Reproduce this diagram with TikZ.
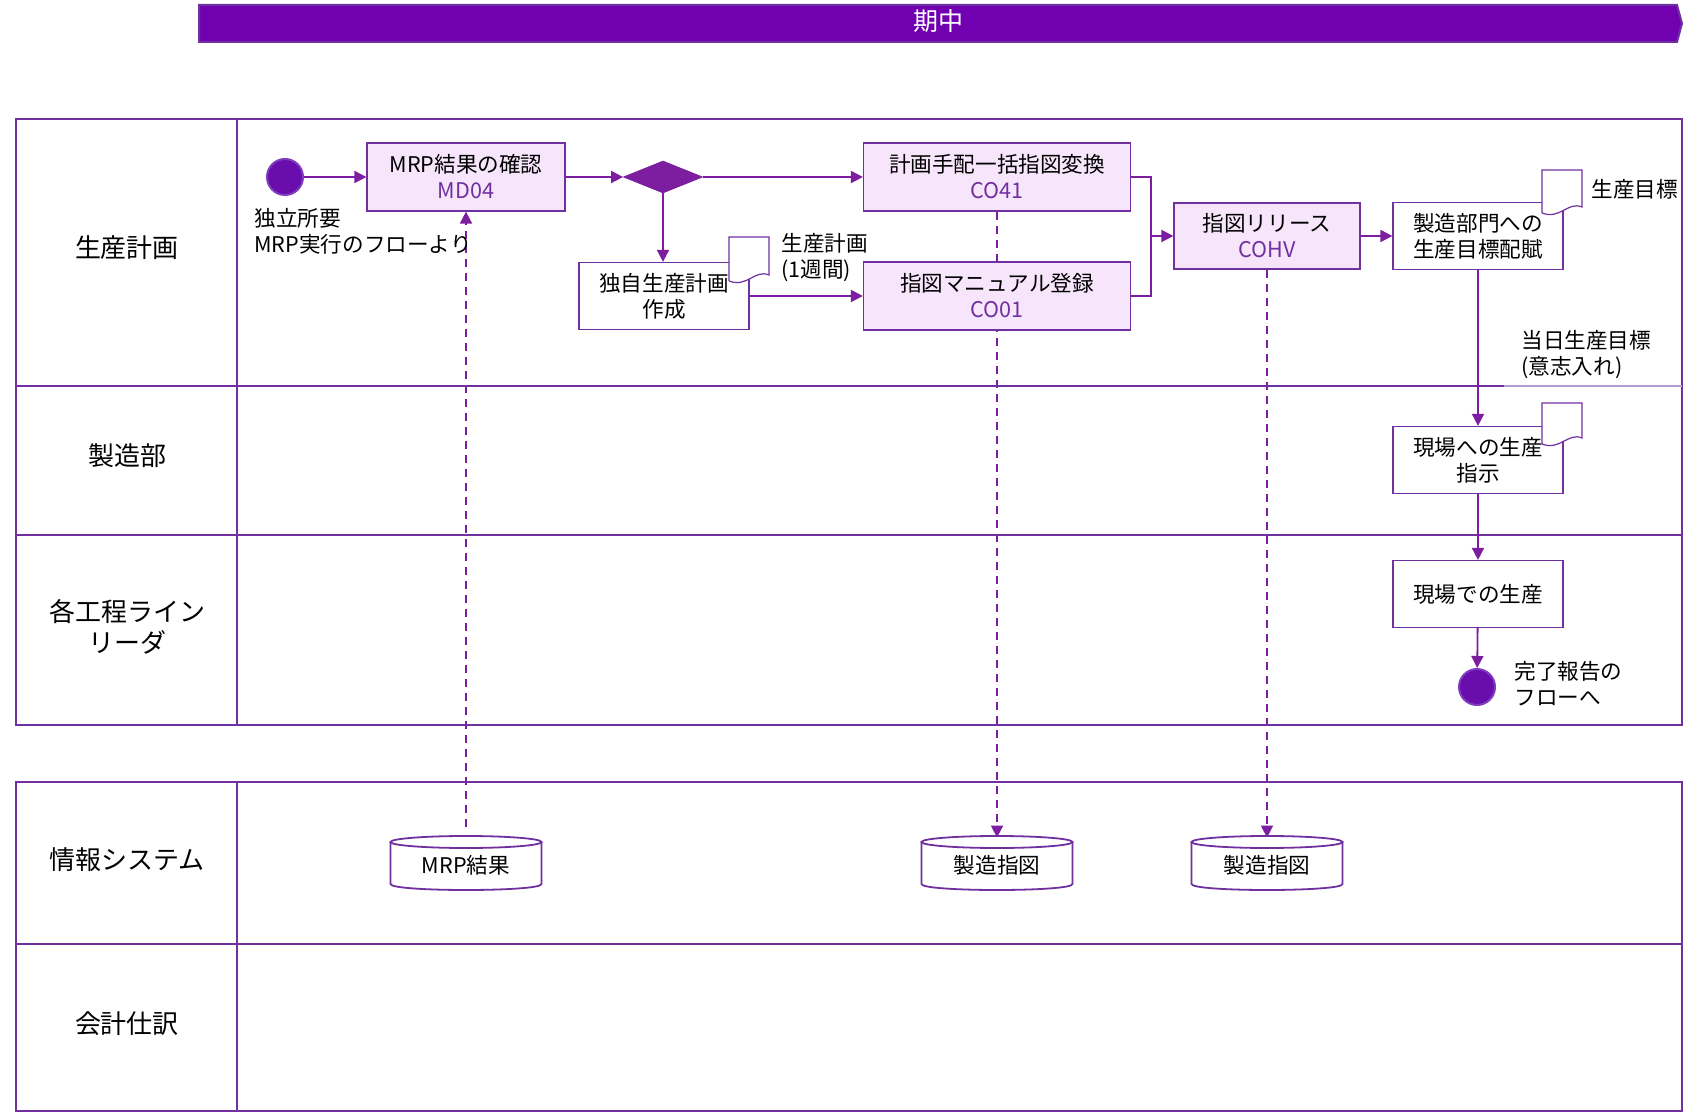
\documentclass[tikz,border=0pt]{standalone}
\usepackage{fontspec}
\usetikzlibrary{shapes.geometric,arrows.meta}
\newfontfamily\jp{Noto Sans CJK JP}
\definecolor{lanecol}{RGB}{112,48,160}
\definecolor{lanelight}{RGB}{182,156,210}
\definecolor{bannerfill}{RGB}{112,0,176}
\definecolor{boxfill}{RGB}{247,230,251}
\definecolor{codecol}{RGB}{112,48,160}
\definecolor{flowcol}{RGB}{125,30,160}
\definecolor{dotfill}{RGB}{106,13,173}
\definecolor{dotedge}{RGB}{128,60,190}
\pgfdeclarelayer{background}
\pgfsetlayers{background,main}
\tikzset{
  lane/.style={draw=lanecol, line width=1pt},
  lanelabel/.style={font=\jp\fontsize{13}{15.5}\selectfont, align=center, text=black},
  sapbox/.style={draw=lanecol, line width=0.6pt, fill=boxfill, align=center, inner sep=0pt,
     font=\jp\fontsize{10.8}{13}\selectfont, minimum height=34pt},
  taskbox/.style={draw=lanecol, line width=0.6pt, fill=white, align=center, inner sep=0pt,
     font=\jp\fontsize{10.8}{13}\selectfont, minimum height=33.5pt, minimum width=85pt},
  plain/.style={font=\jp\fontsize{10.8}{13}\selectfont, align=left, inner sep=0pt, anchor=west},
  flow/.style={draw=flowcol, line width=0.9pt, -{Triangle[length=6pt,width=6pt]}},
  dflow/.style={draw=flowcol, line width=0.8pt, dash pattern=on 4pt off 3pt, -{Triangle[length=6pt,width=6pt]}},
  dotnode/.style={circle, fill=dotfill, draw=dotedge, line width=1pt, minimum size=18pt, inner sep=0pt},
  decision/.style={diamond, fill=flowcol, draw=flowcol, minimum width=39.5pt, minimum height=16pt, aspect=2.5, inner sep=0pt},
  docshape/.style={draw=lanecol, line width=0.6pt, fill=white},
  dbline/.style={draw=lanecol, line width=0.9pt, fill=white},
  dbnode/.style={font=\jp\fontsize{10.8}{13}\selectfont, minimum width=75.5pt, minimum height=27pt, inner sep=0pt}
}
\newcommand\mydoc[4]{% x0 y0 x1 y1
  \draw[docshape] (#1,{#4-4}) -- (#1,#2) -- (#3,#2) -- (#3,{#4-10})
    .. controls ({#3-14},{#4-16}) and ({#3-22},{#4+3}) .. (#1,{#4-4});
}
\newcommand\mycyl[1]{% center x
  \draw[dbline] ({#1-75.5},842) -- ({#1-75.5},884) .. controls ({#1-75.5},892) and ({#1+75.5},892) .. ({#1+75.5},884) -- ({#1+75.5},842);
  \draw[dbline] (#1,842) ellipse [x radius=37.75pt, y radius=3pt];
}
\begin{document}
\begin{tikzpicture}[x=0.5pt,y=-0.5pt]
\useasboundingbox (0,0) rectangle (1698,1117);
% banner
\draw[fill=bannerfill, draw=lanecol, line width=1pt] (199,5) -- (1677,5) -- (1682,23.5) -- (1677,42) -- (199,42) -- cycle;
\node[font=\jp\fontsize{12.5}{14}\selectfont, text=white] (banner) at (938,21) {期中};
% pools
\draw[lane] (16,119) rectangle (1682,725);
\draw[lane] (237,119) -- (237,725);
\draw[lane] (16,386) -- (1504,386);
\draw[draw=lanelight, line width=1pt] (1504,386) -- (1682,386);
\draw[lane] (16,535) -- (1682,535);
\draw[lane] (16,782) rectangle (1682,1111);
\draw[lane] (237,782) -- (237,1111);
\draw[lane] (16,944) -- (1682,944);
% lane labels
\node[lanelabel] (l1) at (127,248) {生産計画};
\node[lanelabel] (l2) at (127,456) {製造部};
\node[lanelabel] (l3) at (127,627) {各工程ライン\\リーダ};
\node[lanelabel] (l4) at (127,860) {情報システム};
\node[lanelabel] (l5) at (127,1024) {会計仕訳};
% nodes
\node[dotnode] (start) at (285,177) {};
\node[plain] (startlbl) at (254,231) {独立所要\\MRP実行のフローより};
\node[sapbox, minimum width=99pt] (mrp) at (466,177) {MRP結果の確認\\\textcolor{codecol}{MD04}};
\node[decision] (dec) at (663,177) {};
\node[sapbox, minimum width=133.5pt] (co41) at (997,177) {計画手配一括指図変換\\\textcolor{codecol}{CO41}};
\node[taskbox] (own) at (664,296) {独自生産計画\\作成};
\node[sapbox, minimum width=133.5pt] (co01) at (997,296) {指図マニュアル登録\\\textcolor{codecol}{CO01}};
\node[sapbox, minimum width=93pt, minimum height=33pt] (cohv) at (1267,236) {指図リリース\\\textcolor{codecol}{COHV}};
\node[taskbox] (dist) at (1478,236) {製造部門への\\生産目標配賦};
\node[taskbox] (instr) at (1478,460) {現場への生産\\指示};
\node[taskbox] (prod) at (1478,594) {現場での生産};
\node[dotnode] (end) at (1477,687) {};
\node[plain] (endlbl) at (1514,684) {完了報告の\\フローへ};
% documents
\mydoc{729}{237}{769}{285}
\mydoc{1542}{170}{1582}{217}
\mydoc{1542}{403}{1582}{448}
\node[plain] (doc1lbl) at (781,258) {生産計画\\(1週間)};
\node[plain] (doc2lbl) at (1591,189) {生産目標};
\node[plain] (doc3lbl) at (1521,355) {当日生産目標\\(意志入れ)};
% databases
\mycyl{466}
\mycyl{997}
\mycyl{1267}
\node[dbnode] (db1) at (466,865) {MRP結果};
\node[dbnode] (db2) at (997,865) {製造指図};
\node[dbnode] (db3) at (1267,865) {製造指図};
% flows
\draw[flow] (start) -- (mrp);
\draw[flow] (mrp) -- (dec);
\draw[flow] (dec) -- (co41);
\draw[flow] (dec.south) -- (own.north -| dec.south);
\draw[flow] (own) -- (co01);
\coordinate (j) at (1151,236);
\draw[draw=flowcol, line width=0.9pt] (co41.east) -| (j) |- (co01.east);
\draw[flow] (j) -- (cohv.west);
\draw[flow] (cohv) -- (dist);
\draw[flow] (dist) -- (instr);
\draw[flow] (instr) -- (prod);
\draw[flow] (prod) -- (end);
\begin{pgfonlayer}{background}
\draw[dflow] (db1.north) ++(0,-11) -- (mrp.south);
\draw[dflow] (co41.south) -- (db2.north);
\draw[dflow] (cohv.south) -- (db3.north);
\end{pgfonlayer}
\end{tikzpicture}
\end{document}
